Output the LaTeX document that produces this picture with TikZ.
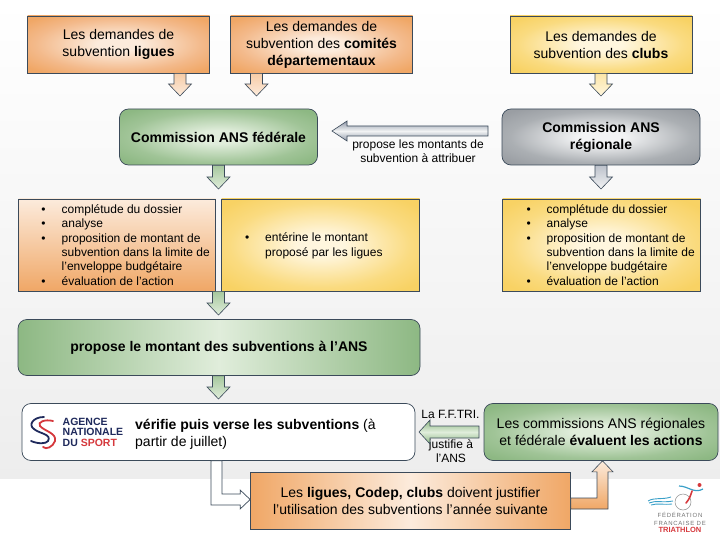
\documentclass[tikz,border=0pt]{standalone}
\usepackage{fontspec}
\setmainfont{Liberation Sans}
\newfontfamily\logofont[LetterSpace=12]{Liberation Sans}
\usetikzlibrary{calc}
\definecolor{boxline}{HTML}{3B4A5A}
\definecolor{orangedark}{HTML}{F0A766}
\definecolor{orangemid}{HTML}{F3B98A}
\definecolor{orangelight}{HTML}{FCEBDC}
\definecolor{yellowdark}{HTML}{F8D264}
\definecolor{yellowmid}{HTML}{FADB80}
\definecolor{yellowlight}{HTML}{FFF6DE}
\definecolor{greendark}{HTML}{8DB883}
\definecolor{greenmid}{HTML}{A0C497}
\definecolor{greenlight}{HTML}{E0EDDB}
\definecolor{greydark}{HTML}{9A9EA3}
\definecolor{greymid}{HTML}{ABAFB3}
\definecolor{greylight}{HTML}{F2F3F4}
\definecolor{steel}{HTML}{8F98A8}
\definecolor{ansnavy}{HTML}{1F2A5C}
\definecolor{ansred}{HTML}{D5383C}
\definecolor{waveblue}{HTML}{3AA0C8}
\pgfdeclareradialshading{orangeglow}{\pgfpointorigin}{color(0bp)=(orangelight); color(6bp)=(orangelight); color(23bp)=(orangemid); color(32bp)=(orangedark); color(50bp)=(orangedark)}
\pgfdeclareradialshading{yellowglow}{\pgfpointorigin}{color(0bp)=(yellowlight); color(6bp)=(yellowlight); color(23bp)=(yellowmid); color(32bp)=(yellowdark); color(50bp)=(yellowdark)}
\pgfdeclareradialshading{greenglow}{\pgfpointorigin}{color(0bp)=(greenlight); color(6bp)=(greenlight); color(23bp)=(greenmid); color(32bp)=(greendark); color(50bp)=(greendark)}
\pgfdeclareradialshading{greyglow}{\pgfpointorigin}{color(0bp)=(greylight); color(6bp)=(greylight); color(23bp)=(greymid); color(32bp)=(greydark); color(50bp)=(greydark)}
\newcommand{\bul}{\llap{\textbullet\hspace{16pt}}}
\tikzset{
	txt/.style={font=\fontsize{14}{17}\selectfont, align=center, inner sep=0pt},
	small/.style={font=\fontsize{12}{14.4}\selectfont, align=left, inner sep=0pt},
	orangebox/.style={draw=boxline, line width=0.7pt, shade, shading=orangeglow},
	yellowbox/.style={draw=boxline, line width=0.7pt, shade, shading=yellowglow},
	greenbox/.style={draw=boxline, line width=0.7pt, rounded corners=9pt, shade, shading=greenglow},
	greybox/.style={draw=boxline, line width=0.7pt, rounded corners=9pt, shade, shading=greyglow},
	downarrow/.style={draw=boxline, line width=0.6pt, to path={let \p1=(\tikztostart),\p2=(\tikztotarget) in
		(\x1-6pt,\y1) -- (\x1-6pt,\y2+12pt) -- (\x1-11.5pt,\y2+12pt) -- (\p2) -- (\x1+11.5pt,\y2+12pt) -- (\x1+6pt,\y2+12pt) -- (\x1+6pt,\y1) -- cycle}},
	leftarrow/.style 2 args={draw=boxline, line width=0.6pt, to path={let \p1=(\tikztostart),\p2=(\tikztotarget) in
		(\x1,\y1+#1) -- (\x2+#2,\y1+#1) -- (\x2+#2,\y1+2*#1) -- (\p2) -- (\x2+#2,\y1-2*#1) -- (\x2+#2,\y1-#1) -- (\x1,\y1-#1) -- cycle}},
	bendright/.style={draw=boxline, line width=0.7pt, fill=white, to path={let \p1=(\tikztostart),\p2=(\tikztotarget) in
		(\x1-5.5pt,\y1) -- (\x1-5.5pt,\y2-5.5pt) -- (\x2-10pt,\y2-5.5pt) -- (\x2-10pt,\y2-9.5pt) -- (\p2) -- (\x2-10pt,\y2+9.5pt) -- (\x2-10pt,\y2+5.5pt) -- (\x1+5.5pt,\y2+5.5pt) -- (\x1+5.5pt,\y1) -- cycle}},
	bendup/.style={draw=boxline, line width=0.6pt, to path={let \p1=(\tikztostart),\p2=(\tikztotarget) in
		(\x1,\y1+5.5pt) -- (\x2-5.5pt,\y1+5.5pt) -- (\x2-5.5pt,\y2-11pt) -- (\x2-10.5pt,\y2-11pt) -- (\p2) -- (\x2+10.5pt,\y2-11pt) -- (\x2+5.5pt,\y2-11pt) -- (\x2+5.5pt,\y1-5.5pt) -- (\x1,\y1-5.5pt) -- cycle}}
}
\begin{document}
\begin{tikzpicture}[x=1pt,y=-1pt]
	\useasboundingbox (0,0) rectangle (720,540);
	% Background
	\fill[top color=white, middle color=black!2, bottom color=black!7] (0,0) rectangle (720,478);

	% Boxes
	\node[orangebox, minimum width=182pt, minimum height=57pt] (lig) at (118.5,44.5) {};
	\node[orangebox, minimum width=182pt, minimum height=57pt] (com) at (321.5,44.5) {};
	\node[yellowbox, minimum width=182pt, minimum height=57pt] (clu) at (601,44.5) {};
	\node[greenbox, minimum width=198pt, minimum height=56pt] (fed) at (218.5,137) {};
	\node[greybox, minimum width=198pt, minimum height=56pt] (reg) at (601,137) {};
	\node[draw=boxline, line width=0.7pt, top color=orangelight, bottom color=orangedark, minimum width=197pt, minimum height=92pt] (lst) at (117,245) {};
	\node[yellowbox, minimum width=198pt, minimum height=92pt] (mid) at (320.5,245) {};
	\node[yellowbox, minimum width=198pt, minimum height=92pt] (rst) at (601.5,245) {};
	\node[draw=boxline, line width=0.7pt, rounded corners=9pt, left color=greendark, right color=greendark, middle color=greenlight, minimum width=402pt, minimum height=56pt] (pro) at (219,347.5) {};
	\node[draw=boxline, line width=0.7pt, fill=white, rounded corners=9pt, minimum width=393pt, minimum height=57pt] (ans) at (218.5,432) {};
	\node[greenbox, minimum width=234pt, minimum height=57pt] (eva) at (601,432) {};
	\node[draw=boxline, line width=0.7pt, left color=orangedark, right color=orangedark, middle color=orangelight, minimum width=320pt, minimum height=57pt] (low) at (410.5,500.5) {};

	% Texts
	\node[txt] (tlig) at (lig) {Les demandes de\\subvention \textbf{ligues}};
	\node[txt] (tcom) at (com) {Les demandes de\\subvention des \textbf{comités}\\\textbf{départementaux}};
	\node[txt] (tclu) at (clu) {Les demandes de\\subvention des \textbf{clubs}};
	\node[txt] (tfed) at (fed) {\textbf{Commission ANS fédérale}};
	\node[txt] (treg) at (reg) {\textbf{Commission ANS}\\\textbf{régionale}};
	\node[small, align=center] (tmon) at (418,151) {propose les montants de\\subvention à attribuer};
	\node[small, anchor=west] (tlst) at (61.5,245) {\bul complétude du dossier\\\bul analyse\\\bul proposition de montant de\\subvention dans la limite de\\l'enveloppe budgétaire\\\bul évaluation de l'action};
	\node[small, anchor=west] (tmid) at (265,246) {\bul entérine le montant\\proposé par les ligues};
	\node[small, anchor=west] (trst) at (546.5,245) {\bul complétude du dossier\\\bul analyse\\\bul proposition de montant de\\subvention dans la limite de\\l'enveloppe budgétaire\\\bul évaluation de l'action};
	\node[txt] (tpro) at (pro) {\textbf{propose le montant des subventions à l'ANS}};
	\node[txt, align=left, anchor=west] (tans) at (135,434) {\textbf{vérifie puis verse les subventions} (à\\partir de juillet)};
	\node[small, align=center] (tfft) at (450.5,414) {La F.F.TRI.};
	\node[small, align=center] (tjus) at (451,451) {justifie à\\l'ANS};
	\node[txt] (teva) at (eva) {Les commissions ANS régionales\\et fédérale \textbf{évaluent les actions}};
	\node[txt] (tlow) at (low) {Les \textbf{ligues, Codep, clubs} doivent justifier\\l'utilisation des subventions l'année suivante};

	% Arrow ends
	\coordinate (e1) at (180,96);
	\coordinate (e2) at (256.5,96);
	\coordinate (e3) at (601,96);
	\coordinate (e4) at (218.5,189);
	\coordinate (e5) at (601,189);
	\coordinate (e6) at (218.5,315);
	\coordinate (e7) at (218.5,399);
	\coordinate (e8) at (488,131);
	\coordinate (e9) at (332,131);
	\coordinate (e10) at (479,432);
	\coordinate (e11) at (419,432);
	\coordinate (e12) at (216.5,499.5);
	\coordinate (e13) at (602.5,503.5);

	% Arrows
	\draw[downarrow, top color=orangedark!45!orangelight, bottom color=orangelight] (lig.south -| e1) to (e1);
	\draw[downarrow, top color=orangedark!45!orangelight, bottom color=orangelight] (com.south -| e2) to (e2);
	\draw[downarrow, top color=yellowdark!45!yellowlight, bottom color=yellowlight] (clu.south -| e3) to (e3);
	\draw[downarrow, top color=greendark!70!greenlight, bottom color=greenlight] (fed.south -| e4) to (e4);
	\draw[downarrow, top color=steel!60!white, bottom color=greylight] (reg.south -| e5) to (e5);
	\draw[downarrow, top color=greendark!70!greenlight, bottom color=greenlight] (lst.south -| e6) to (e6);
	\draw[downarrow, top color=greendark!70!greenlight, bottom color=greenlight] (pro.south -| e7) to (e7);
	\draw[leftarrow={5pt}{15pt}, top color=steel, bottom color=steel, middle color=greylight] (e8) to (e9);
	\draw[leftarrow={6pt}{11pt}, top color=greendark, bottom color=greendark, middle color=greenlight] (e10) to (e11);
	\draw[bendright] (ans.south -| e12) to (low.west |- e12);
	\draw[bendup, top color=orangelight, bottom color=orangedark] (low.east |- e13) to (eva.south -| e13);

	% Logo of the agency
	\draw[ansnavy, line width=1.8pt, line cap=round] (44,417) .. controls (33,417) and (28,425) .. (34,429) .. controls (40,434) and (52,434) .. (48,441) .. controls (46,444) and (38,444) .. (31,441);
	\draw[ansred, line width=1.8pt, line cap=round] (53,421) .. controls (45,419) and (37,422) .. (40,426) .. controls (44,431) and (57,433) .. (55,441) .. controls (53,447) and (46,450) .. (43,447);
	\node[font=\bfseries\fontsize{10.5}{10.4}\selectfont, text=ansnavy, align=left, inner sep=0pt, anchor=west] (lans) at (62.5,432) {AGENCE\\NATIONALE\\DU \textcolor{ansred}{SPORT}};

	% Logo of the federation
	\draw[waveblue, line width=0.9pt] (648,501) .. controls (655,497) and (662,500) .. (671,497);
	\draw[waveblue, line width=0.9pt] (649,503) .. controls (656,500) and (662,503) .. (673,501);
	\draw[waveblue, line width=0.9pt] (651,505) .. controls (657,503) and (664,505) .. (672,504);
	\draw[black!45, line width=0.5pt] (683,502) circle (8);
	\draw[waveblue, line width=1.2pt] (679,486) .. controls (688,486) and (694,494) .. (703,489);
	\draw[ansred, line width=1.6pt, line cap=round] (692,491) .. controls (690,497) and (690,498) .. (686,503);
	\fill[ansred] (699.5,485) circle (2);
	\node[font=\logofont\fontsize{6}{7.6}\selectfont, text=black!55, align=center, inner sep=0pt] (lfed) at (680,519) {FÉDÉRATION\\FRANCAISE DE};
	\node[font=\bfseries\fontsize{7.5}{8}\selectfont, text=ansred, inner sep=0pt] (ltri) at (680,530) {TRIATHLON};
\end{tikzpicture}
\end{document}
